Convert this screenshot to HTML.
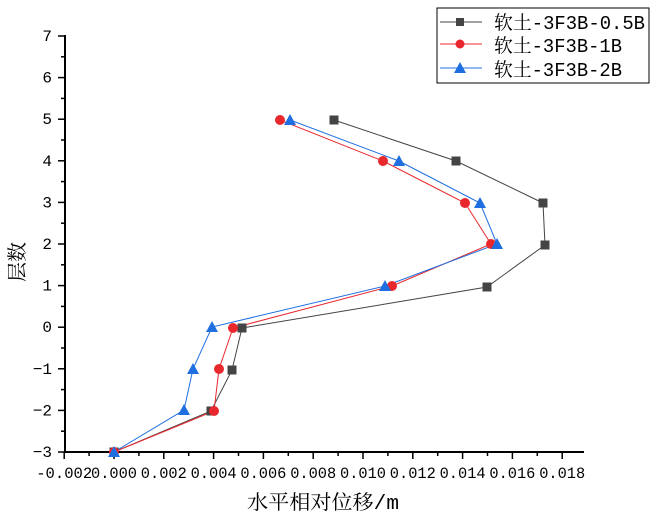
<!DOCTYPE html>
<html><head><meta charset="utf-8"><style>body{margin:0;background:#fff}svg{display:block}</style></head><body>
<svg width="653" height="518" xmlns="http://www.w3.org/2000/svg" font-family="'Liberation Mono','Noto Serif CJK SC',monospace">
<rect width="653" height="518" fill="#fff"/>
<g stroke="#000" stroke-width="2" fill="none">
<line x1="65" y1="452" x2="584" y2="452"/>
<line x1="65" y1="452" x2="65" y2="35"/>
</g>
<g stroke="#000" stroke-width="1.5" id="xt"></g>
<g stroke="#000" stroke-width="1.5" id="yt"></g>
<g font-size="16" fill="#000" id="xl" text-anchor="middle"></g>
<g font-size="16" fill="#000" id="yl" text-anchor="end"></g>
<text x="323" y="509" font-size="20" text-anchor="middle" textLength="152" lengthAdjust="spacingAndGlyphs">水平相对位移/m</text>
<text transform="translate(24,262) rotate(-90)" font-size="20" text-anchor="middle">层数</text>
<polyline fill="none" stroke="#444" stroke-width="1" points="114,452 211,411 232,370 242,328 487,287 545,245 543,203 456,161 334,120"/>
<polyline fill="none" stroke="#e8282d" stroke-width="1" points="114,452 214,411 219,369 233,328 392,286 491,244 465,203 383,161 280,120"/>
<polyline fill="none" stroke="#1f6fe0" stroke-width="1" points="114,452 184,410 193,369 212,327 385,286 497,244 480,203 399,161 290,120"/>
<g fill="#444" id="sq"></g>
<g fill="#e8282d" id="ci"></g>
<g fill="#1f6fe0" id="tr"></g>
<rect x="437" y="8" width="212" height="75" fill="#fff" stroke="#000" stroke-width="1"/>
<line x1="440" y1="22" x2="482" y2="22" stroke="#444"/><rect x="456" y="18" width="8" height="8" fill="#444"/>
<line x1="440" y1="44" x2="482" y2="44" stroke="#e8282d"/><circle cx="460" cy="44" r="4.5" fill="#e8282d"/>
<line x1="440" y1="68" x2="482" y2="68" stroke="#1f6fe0"/><polygon points="460,62 466,73 454,73" fill="#1f6fe0"/>
<g font-size="19" fill="#000">
<text x="494" y="29" textLength="151" lengthAdjust="spacingAndGlyphs">软土-3F3B-0.5B</text>
<text x="494" y="52" textLength="128" lengthAdjust="spacingAndGlyphs">软土-3F3B-1B</text>
<text x="494" y="76" textLength="128" lengthAdjust="spacingAndGlyphs">软土-3F3B-2B</text>
</g>
<script>
var ns="http://www.w3.org/2000/svg";
function el(p,t,a,txt){var e=document.createElementNS(ns,t);for(var k in a)e.setAttribute(k,a[k]);if(txt!==undefined)e.textContent=txt;document.getElementById(p).appendChild(e);}
var labs=["-0.002","0.000","0.002","0.004","0.006","0.008","0.010","0.012","0.014","0.016","0.018"];
for(var i=0;i<=10;i++){var x=64.2+i*49.8;el("xt","line",{x1:x,y1:452,x2:x,y2:459});
if(i==0)el("xl","text",{x:x,y:478,textLength:56,lengthAdjust:"spacingAndGlyphs"},labs[i]);
else el("xl","text",{x:x,y:478,textLength:46,lengthAdjust:"spacingAndGlyphs"},labs[i]);
if(i<10){var xm=x+24.9;el("xt","line",{x1:xm,y1:452,x2:xm,y2:456});}}
for(var j=-3;j<=7;j++){var y=452-(j+3)*41.6;el("yt","line",{x1:58,y1:y,x2:65,y2:y});el("yl","text",{x:52,y:y+5},String(j).replace("-","−"));
if(j<7){el("yt","line",{x1:61,y1:y-20.8,x2:65,y2:y-20.8});}}
[[114,452],[211,411],[232,370],[242,328],[487,287],[545,245],[543,203],[456,161],[334,120]].forEach(function(p){el("sq","rect",{x:p[0]-4.5,y:p[1]-4.5,width:9,height:9});});
[[114,452],[214,411],[219,369],[233,328],[392,286],[491,244],[465,203],[383,161],[280,120]].forEach(function(p){el("ci","circle",{cx:p[0],cy:p[1],r:5});});
[[114,452],[184,410],[193,369],[212,327],[385,286],[497,244],[480,203],[399,161],[290,120]].forEach(function(p){el("tr","polygon",{points:(p[0])+","+(p[1]-6)+" "+(p[0]+6)+","+(p[1]+5)+" "+(p[0]-6)+","+(p[1]+5)});});
</script>
</svg>
</body></html>
